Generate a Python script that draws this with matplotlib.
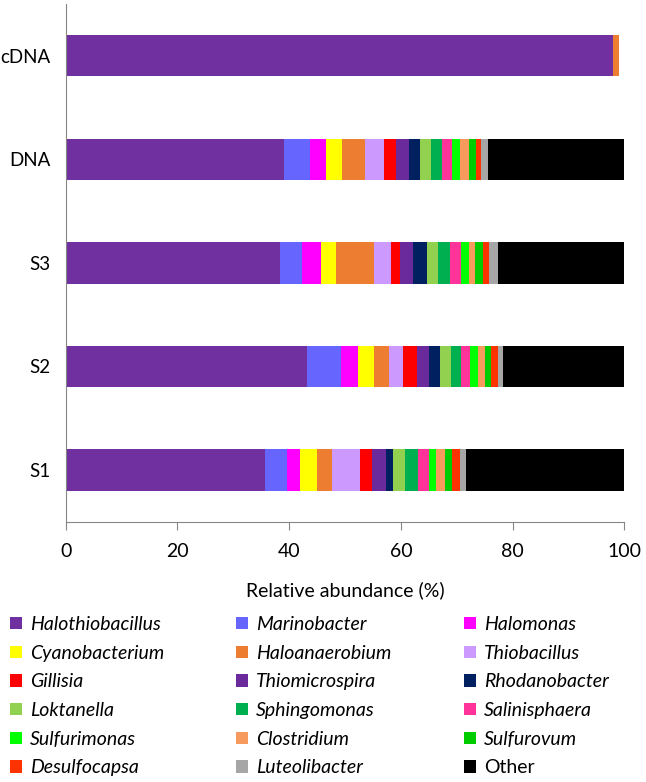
import matplotlib

matplotlib.use("Agg")

import matplotlib.pyplot as plt
import numpy as np
from matplotlib.patches import Patch

plt.rcParams["font.family"] = ["Lato", "DejaVu Sans"]

samples = ["S1", "S2", "S3", "DNA", "cDNA"]

genera = [
    "Halothiobacillus", "Marinobacter", "Halomonas",
    "Cyanobacterium", "Haloanaerobium", "Thiobacillus",
    "Gillisia", "Thiomicrospira", "Rhodanobacter",
    "Loktanella", "Sphingomonas", "Salinisphaera",
    "Sulfurimonas", "Clostridium", "Sulfurovum",
    "Desulfocapsa", "Luteolibacter", "Other",
]

colors = [
    "#7030A0", "#6666FF", "#FF00FF",
    "#FFFF00", "#ED7D31", "#CC99FF",
    "#FF0000", "#6A2A9C", "#002060",
    "#92D050", "#00B050", "#FF3399",
    "#00FF00", "#F79A5E", "#00CC00",
    "#FF3300", "#A6A6A6", "#000000",
]

# relative abundance (%) per genus, columns follow `samples`
abundance = {
    "Halothiobacillus": [35.6, 43.2, 38.4, 39.0, 98.0],
    "Marinobacter":     [4.0, 6.1, 3.9, 4.7, 0.0],
    "Halomonas":        [2.4, 3.0, 3.4, 2.8, 0.0],
    "Cyanobacterium":   [3.0, 2.8, 2.6, 2.9, 0.0],
    "Haloanaerobium":   [2.6, 2.7, 6.9, 4.1, 1.0],
    "Thiobacillus":     [5.0, 2.6, 3.0, 3.5, 0.0],
    "Gillisia":         [2.2, 2.4, 1.6, 2.1, 0.0],
    "Thiomicrospira":   [2.6, 2.2, 2.4, 2.3, 0.0],
    "Rhodanobacter":    [1.2, 2.0, 2.5, 2.0, 0.0],
    "Loktanella":       [2.2, 1.9, 2.0, 2.0, 0.0],
    "Sphingomonas":     [2.2, 1.9, 2.1, 2.0, 0.0],
    "Salinisphaera":    [2.0, 1.5, 2.0, 1.8, 0.0],
    "Sulfurimonas":     [1.3, 1.5, 1.3, 1.4, 0.0],
    "Clostridium":      [1.6, 1.3, 1.2, 1.5, 0.0],
    "Sulfurovum":       [1.3, 1.1, 1.3, 1.3, 0.0],
    "Desulfocapsa":     [1.3, 1.1, 1.2, 1.0, 0.0],
    "Luteolibacter":    [1.1, 0.9, 1.5, 1.2, 0.0],
    "Other":            [28.4, 21.8, 22.7, 24.4, 0.0],
}

fig = plt.figure(figsize=(6.46, 7.82), dpi=100)
ax = fig.add_axes([0.1017, 0.3329, 0.865, 0.662])

y = np.arange(len(samples))
left = np.zeros(len(samples))
for name, color in zip(genera, colors):
    values = np.array(abundance[name])
    ax.barh(y, values, left=left, height=0.4, color=color, linewidth=0)
    left += values

ax.set_xlim(0, 100)
ax.set_ylim(-0.5, len(samples) - 0.5)
ax.set_xticks([0, 20, 40, 60, 80, 100])
ax.set_yticks(y)
ax.set_yticklabels(samples)
ax.tick_params(axis="y", length=0, pad=11, labelsize=13.5)
ax.tick_params(axis="x", length=5.5, width=0.8, color="#868686", pad=10, labelsize=14)
ax.set_xlabel("Relative abundance (%)", fontsize=14, labelpad=15)
for side in ("top", "right"):
    ax.spines[side].set_visible(False)
for side in ("left", "bottom"):
    ax.spines[side].set_color("#868686")
    ax.spines[side].set_linewidth(0.8)

# three legend columns, filled row by row like the original
col_x = [10 / 646, 236 / 646, 464 / 646]
for c in range(3):
    names = genera[c::3]
    cols = colors[c::3]
    handles = [Patch(facecolor=col, edgecolor="none") for col in cols]
    leg = fig.legend(
        handles, names, loc="upper left", bbox_to_anchor=(col_x[c], 1 - 616 / 782),
        frameon=False, fontsize=14, handlelength=0.62, handleheight=0.62,
        handletextpad=0.4, labelspacing=0.6, borderpad=0, borderaxespad=0,
    )
    for text in leg.get_texts():
        if text.get_text() != "Other":
            text.set_fontstyle("italic")

fig.savefig("out.png", dpi=100, facecolor="white")
